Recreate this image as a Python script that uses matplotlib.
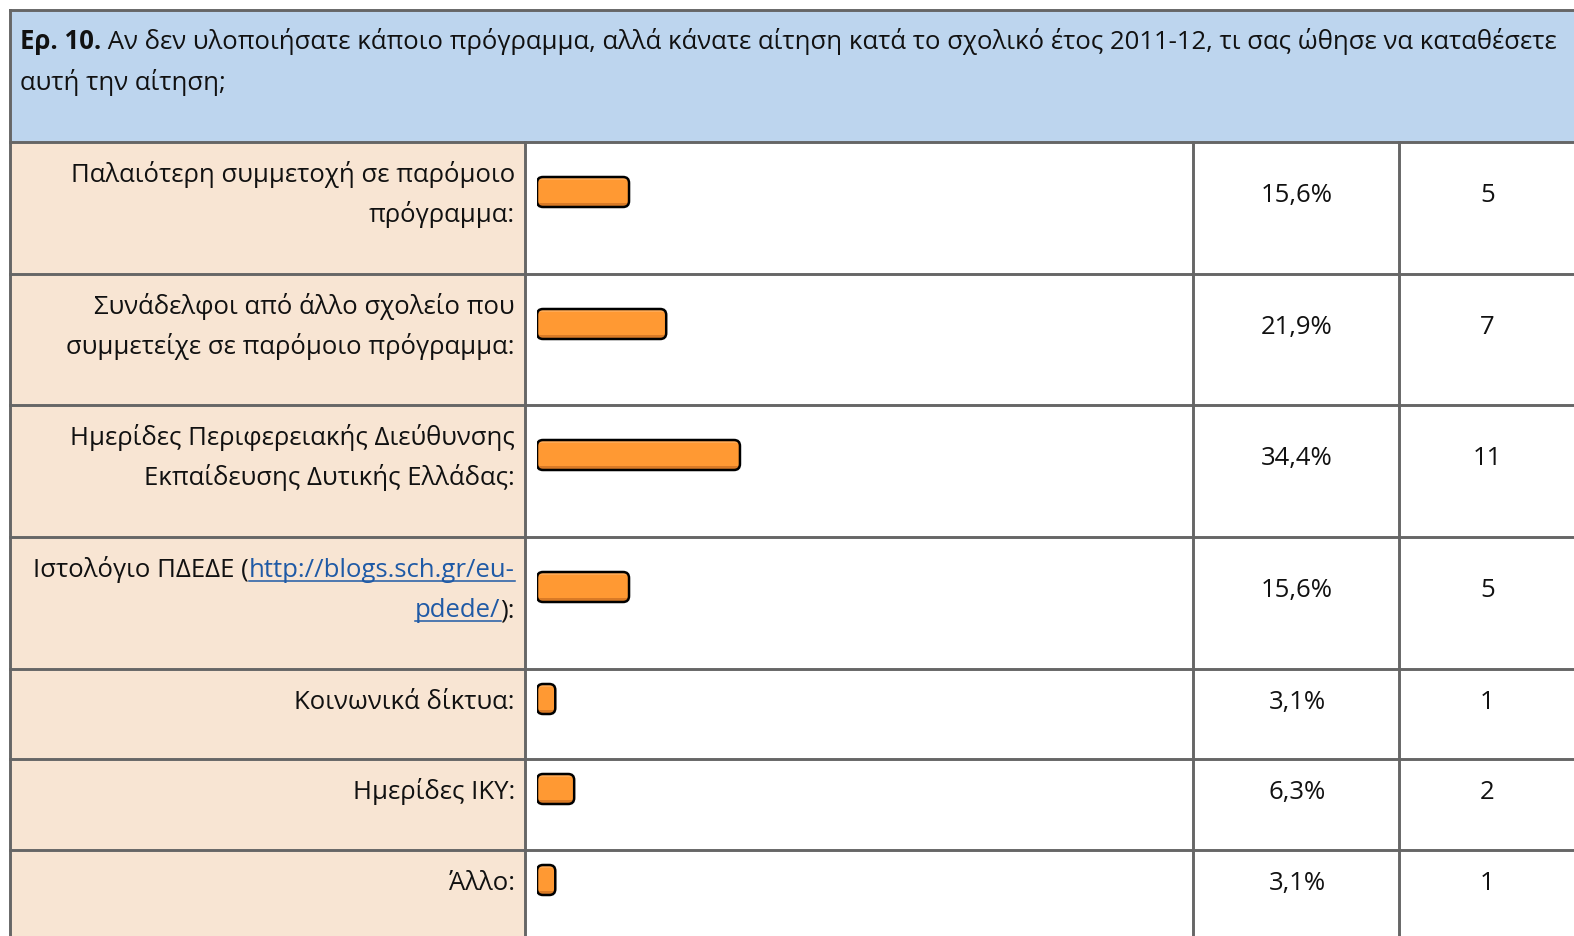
import matplotlib
matplotlib.use('Agg')
import matplotlib.pyplot as plt
from matplotlib.patches import Rectangle, FancyBboxPatch

# question header
question_num = 'Ερ. 10.'
question_line1 = ' Αν δεν υλοποιήσατε κάποιο πρόγραμμα, αλλά κάνατε αίτηση κατά το σχολικό έτος 2011-12, τι σας ώθησε να καταθέσετε'
question_line2 = 'αυτή την αίτηση;'

# answer labels, one list of lines per row; a line is a list of (text, is_link)
labels = [
    [[('Παλαιότερη συμμετοχή σε παρόμοιο', False)], [('πρόγραμμα:', False)]],
    [[('Συνάδελφοι από άλλο σχολείο που', False)], [('συμμετείχε σε παρόμοιο πρόγραμμα:', False)]],
    [[('Ημερίδες Περιφερειακής Διεύθυνσης', False)], [('Εκπαίδευσης Δυτικής Ελλάδας:', False)]],
    [[('Ιστολόγιο ΠΔΕΔΕ (', False), ('http://blogs.sch.gr/eu-', True)],
     [('pdede/', True), ('):', False)]],
    [[('Κοινωνικά δίκτυα:', False)]],
    [[('Ημερίδες ΙΚΥ:', False)]],
    [[('Άλλο:', False)]],
]
percents = [15.6, 21.9, 34.4, 15.6, 3.1, 6.3, 3.1]
counts = [5, 7, 11, 5, 1, 2, 1]

W, H = 1574, 936
GRID = '#666666'
HEAD_BG = '#BDD5EE'
LABEL_BG = '#F8E5D3'
LINK = '#1F5AA6'
TXT = '#111111'
ORANGE = '#FF9933'
PX_PER_PCT = 5.9

plt.rcParams['font.family'] = ['Open Sans', 'DejaVu Sans']

fig = plt.figure(figsize=(W / 100, H / 100), dpi=100)
ax = fig.add_axes([0, 0, 1, 1])
ax.set_xlim(0, W)
ax.set_ylim(H, 0)
ax.axis('off')
renderer = fig.canvas.get_renderer()

# fit the font size so the first header line spans like the original
t1 = ax.text(0, 0, question_num, fontsize=10, fontweight='bold')
t2 = ax.text(0, 0, question_line1, fontsize=10)
w10 = t1.get_window_extent(renderer).width + t2.get_window_extent(renderer).width
t1.remove()
t2.remove()
FS = 10 * 1537 / w10

# columns and rows
x_left, c1, c2, c3 = 10, 525, 1193, 1399
row_tops = [142, 274, 405, 537, 669, 759, 850]
row_bots = row_tops[1:] + [H + 20]

# backgrounds
ax.add_patch(Rectangle((x_left, 10), W, 132, fc=HEAD_BG, ec='none'))
for top, bot in zip(row_tops, row_bots):
    ax.add_patch(Rectangle((x_left, top), c1 - x_left, bot - top, fc=LABEL_BG, ec='none'))

# grid lines
lw = 2.1
ax.plot([x_left, W], [10, 10], color=GRID, lw=lw)
for top in row_tops:
    ax.plot([x_left, W], [top, top], color=GRID, lw=lw)
ax.plot([x_left, x_left], [10, H], color=GRID, lw=lw)
for cx in (c1, c2, c3):
    ax.plot([cx, cx], [row_tops[0], H], color=GRID, lw=lw)

# header text
hb = ax.text(20, 49, question_num, fontsize=FS, fontweight='bold', color=TXT, va='baseline')
bx = hb.get_window_extent(renderer).x1
ax.text(bx, 49, question_line1, fontsize=FS, color=TXT, va='baseline')
ax.text(20, 90, question_line2, fontsize=FS, color=TXT, va='baseline')


def draw_line_right(x_right, y, segments):
    x = x_right
    for text, is_link in reversed(segments):
        t = ax.text(x, y, text, fontsize=FS, color=LINK if is_link else TXT,
                    ha='right', va='baseline')
        bb = t.get_window_extent(renderer)
        if is_link:
            ax.plot([bb.x0, bb.x1], [y + 4, y + 4], color=LINK, lw=1.1)
        x = bb.x0


# label and value cells
bar_centers = []
for lines, top, p, n in zip(labels, row_tops, percents, counts):
    nl = len(lines)
    for i, segs in enumerate(lines):
        draw_line_right(515, top + 40 + 40 * i, segs)
    vy = top + 20 + 20 * nl
    ax.text((c2 + c3) / 2 + 1, vy, f'{p:.1f}'.replace('.', ',') + '%', fontsize=FS,
            color=TXT, ha='center', va='baseline')
    ax.text((c3 + W) / 2 + 1, vy, str(n), fontsize=FS, color=TXT,
            ha='center', va='baseline')
    bar_centers.append(top + 10 + 20 * nl)

# bars, on their own axes scaled in percent
bax = fig.add_axes([537 / W, 0, 100 * PX_PER_PCT / W, 1])
bax.set_xlim(0, 100)
bax.set_ylim(H, 0)
bax.axis('off')
r = 6 / PX_PER_PCT
for p, yc in zip(percents, bar_centers):
    style = f'round,pad=0,rounding_size={r}'
    body = FancyBboxPatch((0, yc - 15), p, 30, boxstyle=style,
                          mutation_aspect=PX_PER_PCT, fc=ORANGE, ec='none')
    bax.add_patch(body)
    low = Rectangle((0, yc + 11), p, 4, fc='#D97A26', ec='none')
    low.set_clip_path(body)
    bax.add_patch(low)
    hi = Rectangle((0, yc - 15), p, 3, fc='#FFAA55', ec='none')
    hi.set_clip_path(body)
    bax.add_patch(hi)
    bax.add_patch(FancyBboxPatch((0, yc - 15), p, 30, boxstyle=style,
                                 mutation_aspect=PX_PER_PCT, fc='none',
                                 ec='black', lw=1.8))

fig.savefig('out.png', dpi=100)
